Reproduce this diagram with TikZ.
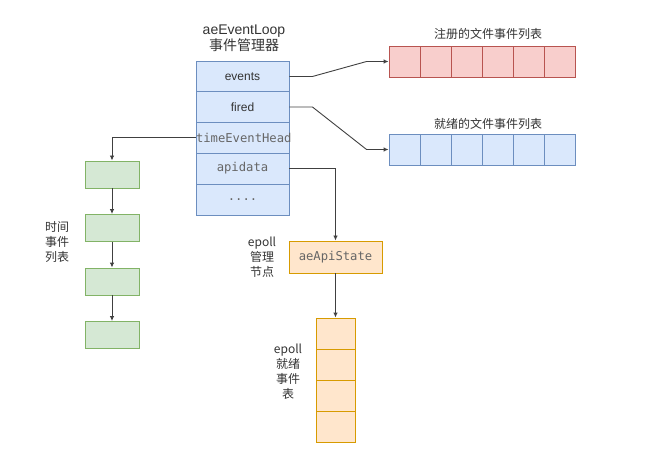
\documentclass[tikz,border=0pt]{standalone}
\usepackage{fontspec}
\setmainfont{Liberation Sans}
\setmonofont{DejaVu Sans Mono}
\newfontfamily\cjk{Noto Sans CJK SC}
\usetikzlibrary{arrows.meta,positioning}

\definecolor{loopFill}{HTML}{DAE8FC}
\definecolor{loopDraw}{HTML}{6C8EBF}
\definecolor{regFill}{HTML}{F8CECC}
\definecolor{regDraw}{HTML}{B85450}
\definecolor{timeFill}{HTML}{D5E8D4}
\definecolor{timeDraw}{HTML}{82B366}
\definecolor{epFill}{HTML}{FFE6CC}
\definecolor{epDraw}{HTML}{D79B00}

\begin{document}
\begin{tikzpicture}
  [
  x=1pt, y=-1pt,
  font=\fontsize{12}{15}\selectfont, line width=0.9pt, >={Latex[length=5pt,width=4.5pt]},
  loopcell/.style={rectangle, inner sep=0pt, minimum width=93pt, minimum height=31pt,
    fill=loopFill, draw=loopDraw, text=black!80},
  monotext/.style={font=\ttfamily\fontsize{12.2}{14}\selectfont, text=black!60},
  listcell/.style={rectangle, inner sep=0pt, minimum width=31pt, minimum height=31pt},
  timebox/.style={rectangle, inner sep=0pt, minimum width=54pt, minimum height=27pt,
    fill=timeFill, draw=timeDraw},
  epcell/.style={rectangle, inner sep=0pt, minimum width=39pt, minimum height=31pt,
    fill=epFill, draw=epDraw},
  lbl/.style={align=center, text=black!80, font=\cjk\fontsize{12}{15}\selectfont},
  link/.style={->, draw=black!75},
  ]

  \useasboundingbox (0,0) rectangle (666,454);

  % event loop
  \node[lbl, font=\fontsize{14}{13.5}\selectfont] (loopLbl) at (244,38)
    {aeEventLoop\\{\cjk 事件管理器}};
  \node[loopcell] (ev) at (242.5,76.5) {events};
  \node[loopcell] (fi) at (242.5,107) {fired};
  \node[loopcell, monotext, text width=93pt, align=center] (teh) at (242.5,137.5)
    {timeEventHead};
  \node[loopcell, monotext] (apid) at (242.5,168.5) {apidata};
  \node[loopcell, monotext] (more) at (242.5,199.5) {....};

  % file events
  \node[lbl] (regLbl) at (488,34) {注册的文件事件列表};
  \node[lbl] (firedLbl) at (488,124) {就绪的文件事件列表};
  \foreach \i in {1,...,6} {
    \node[listcell, fill=regFill, draw=regDraw] (r\i) at (373.5+31*\i,61.5) {};
    \node[listcell, fill=loopFill, draw=loopDraw] (b\i) at (373.5+31*\i,149.5) {};
  }

  \draw[link] (ev.east) -- ++(23,0) -- ([xshift=-22pt]r1.west) -- (r1.west);
  \draw[link] (fi.east) -- ++(23,0) -- ([xshift=-22pt]b1.west) -- (b1.west);

  % time events
  \node[lbl] (timeLbl) at (57,242) {时间\\事件\\列表};
  \foreach \i in {1,2,3,4}
    \node[timebox] (g\i) at (112,121+53.5*\i) {};
  \draw[link] (teh.west) -| (g1.north);
  \foreach \i/\j in {1/2,2/3,3/4}
    \draw[link] (g\i) -- (g\j);

  % epoll
  \node[lbl] (apiLbl) at (262,257) {epoll\\管理\\节点};
  \node[rectangle, inner sep=0pt, minimum width=93pt, minimum height=32pt,
    fill=epFill, draw=epDraw, monotext] (api) at (335.5,257) {aeApiState};
  \draw[link] (apid.east) -| (api.north);

  \node[lbl] (epLbl) at (288,372) {epoll\\就绪\\事件\\表};
  \foreach \i in {1,...,4}
    \node[epcell] (ep\i) at (335.5,302.5+31*\i) {};
  \draw[link] (api.south) -- (ep1.north);
\end{tikzpicture}
\end{document}
